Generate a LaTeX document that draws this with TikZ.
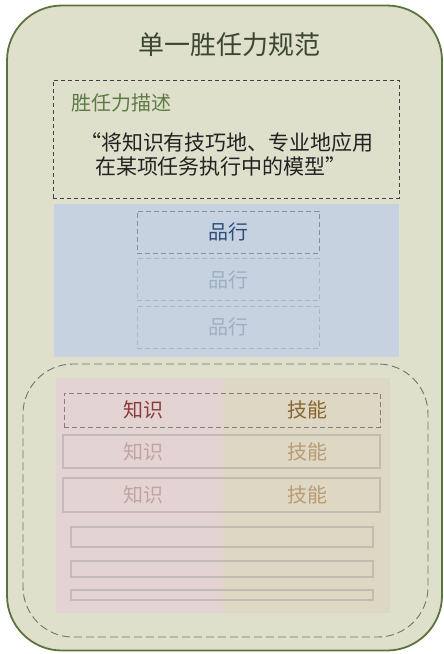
\documentclass[tikz,border=0pt]{standalone}
\usepackage{fontspec}
\setmainfont{Noto Sans CJK SC}
\definecolor{bgfill}{HTML}{DFE0CB}
\definecolor{bgline}{HTML}{5A7340}
\definecolor{titlec}{HTML}{3A4532}
\definecolor{descc}{HTML}{5E7A45}
\definecolor{quotec}{HTML}{222222}
\definecolor{bluefill}{HTML}{C6D2DF}
\definecolor{bluetext}{HTML}{2F4C7E}
\definecolor{bluefade}{HTML}{9DB0C2}
\definecolor{blueline}{HTML}{7D90A6}
\definecolor{bluelinefade}{HTML}{A9B8C8}
\definecolor{pinkfill}{HTML}{E4D3D3}
\definecolor{tanfill}{HTML}{DDD7C4}
\definecolor{redtext}{HTML}{8A3C3C}
\definecolor{browntext}{HTML}{8A6530}
\definecolor{redfade}{HTML}{C2A3A3}
\definecolor{brownfade}{HTML}{B99C74}
\definecolor{rowline}{HTML}{8A8A8A}
\tikzset{
  box/.style={rectangle, inner sep=0pt, anchor=center},
  txt/.style={inner sep=0pt, anchor=center},
  rowbox/.style={box, draw=rowline, draw opacity=0.35, line width=2pt},
}
\begin{document}
\begin{tikzpicture}[x=1pt,y=-1pt]
\useasboundingbox (0,0) rectangle (444,654);
% outer
\node[box, draw=bgline, fill=bgfill, line width=1.8pt, rounded corners=55pt,
  minimum width=435pt, minimum height=645pt] (outer) at (224.5,328) {};
\node[txt, text=titlec, font=\fontsize{26}{30}\selectfont] (title) at (229,45) {单一胜任力规范};
% description box
\node[box, draw=black!75, dashed, line width=0.9pt, dash pattern=on 4pt off 3pt,
  minimum width=346pt, minimum height=118pt] (desc) at (226,139) {};
\node[txt, text=descc, font=\fontsize{20}{24}\selectfont, anchor=west] (desct) at (71,103) {胜任力描述};
\node[txt, text=quotec, font=\fontsize{21}{24}\selectfont] (q1) at (227,143) {“将知识有技巧地、专业地应用};
\node[txt, text=quotec, font=\fontsize{21}{24}\selectfont] (q2) at (221,167) {在某项任务执行中的模型”};
% blue area
\node[box, fill=bluefill, minimum width=345pt, minimum height=153pt] (blue) at (226.5,280.5) {};
\node[box, draw=blueline, dashed, dash pattern=on 5pt off 3pt, line width=0.9pt,
  minimum width=182pt, minimum height=42pt] (p1) at (228,232) {};
\node[box, draw=bluelinefade, dashed, dash pattern=on 5pt off 3pt, line width=0.9pt,
  minimum width=182pt, minimum height=42pt] (p2) at (228,279.5) {};
\node[box, draw=bluelinefade, dashed, dash pattern=on 5pt off 3pt, line width=0.9pt,
  minimum width=182pt, minimum height=42pt] (p3) at (228,327) {};
\node[txt, text=bluetext, font=\fontsize{20}{24}\selectfont] (p1t) at (p1) {品行};
\node[txt, text=bluefade, font=\fontsize{20}{24}\selectfont] (p2t) at (p2) {品行};
\node[txt, text=bluefade, font=\fontsize{20}{24}\selectfont] (p3t) at (p3) {品行};
% lower dashed rounded area
\node[box, draw=black!55, dashed, dash pattern=on 8pt off 4pt, line width=0.9pt, rounded corners=50pt,
  minimum width=405pt, minimum height=273pt] (lower) at (225.5,500.5) {};
\node[box, fill=pinkfill, minimum width=167pt, minimum height=235pt] (pink) at (139.5,495.5) {};
\node[box, fill=tanfill, minimum width=167pt, minimum height=235pt] (tan) at (306.5,495.5) {};
% rows
\node[box, draw=black!50, dashed, dash pattern=on 5pt off 3pt, line width=0.9pt,
  minimum width=316pt, minimum height=34pt] (r1) at (222,410) {};
\node[rowbox, minimum width=317pt, minimum height=33pt] (r2) at (221.5,451.5) {};
\node[rowbox, minimum width=317pt, minimum height=34pt] (r3) at (221.5,495) {};
\node[txt, text=redtext, font=\fontsize{20}{24}\selectfont] (k1) at (143,410) {知识};
\node[txt, text=browntext, font=\fontsize{20}{24}\selectfont] (s1) at (307,410) {技能};
\node[txt, text=redfade, font=\fontsize{20}{24}\selectfont] (k2) at (143,451.5) {知识};
\node[txt, text=brownfade, font=\fontsize{20}{24}\selectfont] (s2) at (307,451.5) {技能};
\node[txt, text=redfade, font=\fontsize{20}{24}\selectfont] (k3) at (143,495) {知识};
\node[txt, text=brownfade, font=\fontsize{20}{24}\selectfont] (s3) at (307,495) {技能};
% bars
\node[rowbox, minimum width=302pt, minimum height=20pt] (b1) at (222,537) {};
\node[rowbox, minimum width=302pt, minimum height=16pt] (b2) at (222,569) {};
\node[rowbox, minimum width=302pt, minimum height=10pt] (b3) at (222,595) {};
\end{tikzpicture}
\end{document}
